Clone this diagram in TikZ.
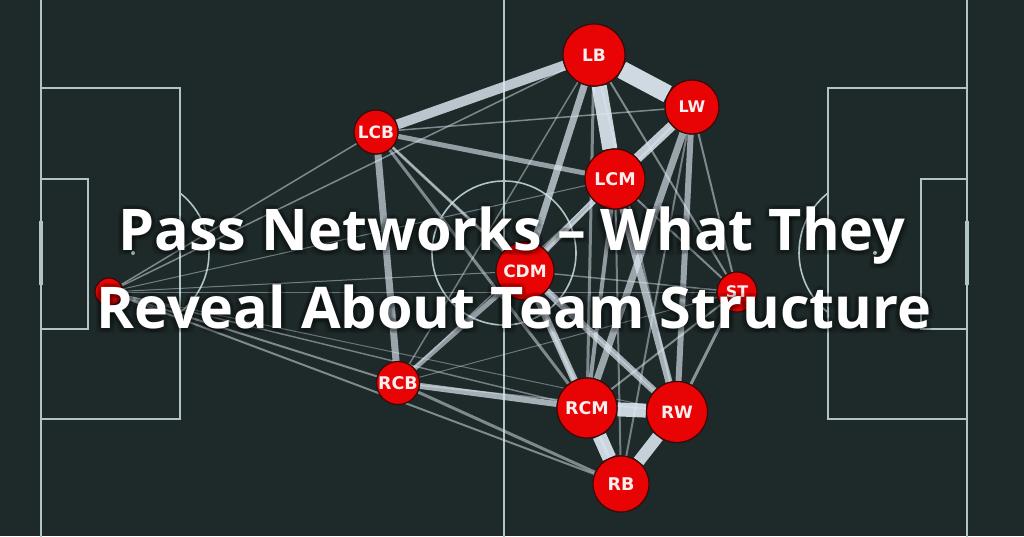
\documentclass[tikz,border=0pt]{standalone}
\usepackage{fontspec}
\usetikzlibrary{backgrounds}
\newfontfamily\titlefont{Open Sans}
\newfontfamily\lblfont{DejaVu Sans}
\definecolor{bgcol}{RGB}{30,41,41}
\definecolor{pitchcol}{RGB}{178,196,196}
\definecolor{edgecol}{RGB}{222,232,242}
\definecolor{nodered}{RGB}{232,4,4}
\definecolor{nodeedge}{RGB}{60,8,8}
\definecolor{lblcol}{RGB}{250,238,238}
\tikzset{
  pitch/.style={draw=pitchcol, line width=1.6pt},
  player/.style={circle, fill=nodered, draw=nodeedge, line width=1.2pt, inner sep=0pt, text=lblcol, font=\lblfont\bfseries},
  pass/.style 2 args={draw=edgecol, line width=#1pt, draw opacity=#2},
  ttl/.style={font=\titlefont\bfseries\fontsize{57.5}{60}\selectfont, text=white, anchor=base, inner sep=0pt},
  ttlsh/.style={font=\titlefont\bfseries\fontsize{57.5}{60}\selectfont, text=black, text opacity=0.10, anchor=base, inner sep=0pt}
}
\begin{document}
\begin{tikzpicture}[x=1pt,y=-1pt]
\useasboundingbox (0,0) rectangle (1024,536);
% players
\node[player, minimum size=28pt, font=\lblfont\bfseries\fontsize{7}{8}\selectfont] (GK) at (109,292) {GK};
\node[player, minimum size=44pt, font=\lblfont\bfseries\fontsize{17}{19}\selectfont] (LCB) at (376,132) {LCB};
\node[player, minimum size=43pt, font=\lblfont\bfseries\fontsize{17.5}{19}\selectfont] (RCB) at (398,383) {RCB};
\node[player, minimum size=62pt, font=\lblfont\bfseries\fontsize{17}{19}\selectfont] (LB) at (594,55) {LB};
\node[player, minimum size=54pt, font=\lblfont\bfseries\fontsize{16}{18}\selectfont] (LW) at (692,107) {LW};
\node[player, minimum size=60pt, font=\lblfont\bfseries\fontsize{17.5}{19}\selectfont] (LCM) at (615,179) {LCM};
\node[player, minimum size=58pt, font=\lblfont\bfseries\fontsize{17}{19}\selectfont] (CDM) at (525,271) {CDM};
\node[player, minimum size=40pt, font=\lblfont\bfseries\fontsize{16}{18}\selectfont] (ST) at (737,292) {ST};
\node[player, minimum size=60pt, font=\lblfont\bfseries\fontsize{17.5}{19}\selectfont] (RCM) at (587,408) {RCM};
\node[player, minimum size=61pt, font=\lblfont\bfseries\fontsize{17}{19}\selectfont] (RW) at (677,412) {RW};
\node[player, minimum size=56pt, font=\lblfont\bfseries\fontsize{17.5}{19}\selectfont] (RB) at (621,484) {RB};
\begin{pgfonlayer}{background}
\fill[bgcol] (0,0) rectangle (1024,536);
% pitch
\draw[pitch] (41,-5) -- (41,541);
\draw[pitch] (967,-5) -- (967,541);
\draw[pitch] (504,-5) -- (504,541);
\draw[pitch] (41,88) rectangle (180,419);
\draw[pitch] (967,88) rectangle (828,419);
\draw[pitch] (41,179) rectangle (88,329);
\draw[pitch] (967,179) rectangle (921,329);
\draw[pitch, line width=4pt] (41,221) -- (41,285);
\draw[pitch, line width=4pt] (967,221) -- (967,285);
\draw[pitch] (504,253) circle[radius=72pt];
\fill[pitchcol] (133,253) circle[radius=2pt];
\fill[pitchcol] (875,253) circle[radius=2pt];
\draw[pitch] (180,193) arc[start angle=51.8, end angle=-51.8, radius=76pt];
\draw[pitch] (828,193) arc[start angle=128.2, end angle=231.8, radius=76pt];
% passes
\draw[pass={1.5}{0.5}] (GK) -- (LCB);
\draw[pass={1.5}{0.5}] (GK) -- (LB);
\draw[pass={1.0}{0.45}] (GK) -- (LCM);
\draw[pass={1.0}{0.45}] (GK) -- (CDM);
\draw[pass={1.0}{0.4}] (GK) -- (ST);
\draw[pass={1.5}{0.45}] (GK) -- (RCM);
\draw[pass={2.0}{0.5}] (GK) -- (RCB);
\draw[pass={2.0}{0.5}] (GK) -- (RB);
\draw[pass={1.0}{0.4}] (GK) -- (RW);
\draw[pass={10}{0.82}] (LCB) -- (LB);
\draw[pass={1.5}{0.5}] (LCB) -- (LW);
\draw[pass={5}{0.62}] (LCB) -- (LCM);
\draw[pass={3}{0.55}] (LCB) -- (CDM);
\draw[pass={3}{0.5}] (LCB) -- (RCM);
\draw[pass={1.5}{0.45}] (LCB) -- (RW);
\draw[pass={7}{0.65}] (LCB) -- (RCB);
\draw[pass={5}{0.6}] (RCB) -- (CDM);
\draw[pass={1.5}{0.45}] (RCB) -- (LCM);
\draw[pass={1.5}{0.45}] (RCB) -- (LB);
\draw[pass={6}{0.7}] (RCB) -- (RCM);
\draw[pass={3}{0.5}] (RCB) -- (RB);
\draw[pass={1.5}{0.45}] (RCB) -- (RW);
\draw[pass={1.0}{0.4}] (RCB) -- (ST);
\draw[pass={18}{0.92}] (LB) -- (LW);
\draw[pass={15}{0.9}] (LB) -- (LCM);
\draw[pass={7}{0.7}] (LB) -- (CDM);
\draw[pass={3}{0.5}] (LB) -- (RCM);
\draw[pass={2}{0.5}] (LB) -- (ST);
\draw[pass={2}{0.45}] (LB) -- (RW);
\draw[pass={10}{0.85}] (LW) -- (LCM);
\draw[pass={2}{0.5}] (LW) -- (CDM);
\draw[pass={2}{0.5}] (LW) -- (ST);
\draw[pass={6}{0.65}] (LW) -- (RW);
\draw[pass={7}{0.65}] (LW) -- (RCM);
\draw[pass={2}{0.45}] (LW) -- (RB);
\draw[pass={6}{0.7}] (LCM) -- (CDM);
\draw[pass={7}{0.7}] (LCM) -- (RW);
\draw[pass={4}{0.6}] (LCM) -- (RCM);
\draw[pass={2}{0.5}] (LCM) -- (ST);
\draw[pass={2}{0.45}] (LCM) -- (RB);
\draw[pass={1.5}{0.45}] (CDM) -- (ST);
\draw[pass={7}{0.75}] (CDM) -- (RCM);
\draw[pass={7}{0.7}] (CDM) -- (RW);
\draw[pass={3}{0.5}] (CDM) -- (RB);
\draw[pass={3}{0.55}] (ST) -- (RW);
\draw[pass={2}{0.5}] (ST) -- (RCM);
\draw[pass={14}{0.9}] (RCM) -- (RW);
\draw[pass={14}{0.9}] (RCM) -- (RB);
\draw[pass={12}{0.88}] (RW) -- (RB);
\end{pgfonlayer}
% title shadow
\foreach \dx/\dy in {-3/-3,3/-3,-3/3,3/3,0/4,0/-4,4/0,-4/0,-5/5,5/5}{
  \node[ttlsh] (sh1) at (512+\dx,250+\dy) {Pass Networks – What They};
  \node[ttlsh] (sh2) at (514+\dx,328+\dy) {Reveal About Team Structure};
}
\node[ttl] (title1) at (512,250) {Pass Networks – What They};
\node[ttl] (title2) at (514,328) {Reveal About Team Structure};
\end{tikzpicture}
\end{document}
